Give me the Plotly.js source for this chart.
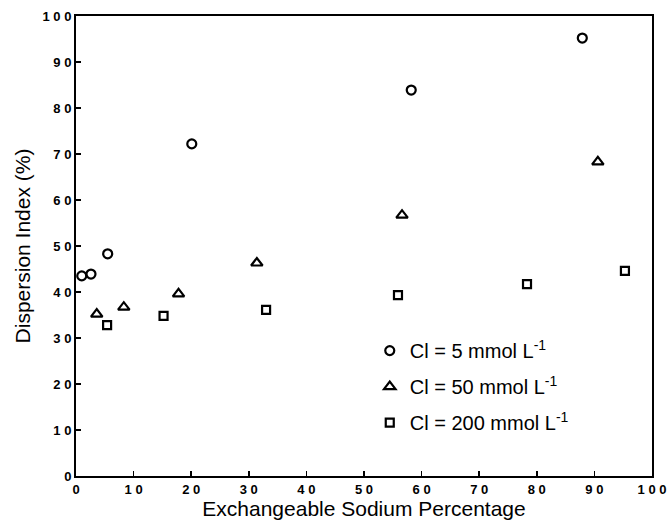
<!DOCTYPE html>
<html>
<head>
<meta charset="utf-8">
<script src="https://cdn.plot.ly/plotly-3.0.1.min.js"></script>
<style>html,body{margin:0;padding:0;background:#fff;}#chart{width:672px;height:529px;}</style>
</head>
<body>
<div id="chart"></div>
<script>
// Data
const seriesNames = ["Cl = 5 mmol L<sup>-1</sup>", "Cl = 50 mmol L<sup>-1</sup>", "Cl = 200 mmol L<sup>-1</sup>"];
const esp5 = [1.0, 2.6, 5.5, 20.1, 58.2, 87.9];
const di5 = [43.5, 43.9, 48.3, 72.2, 83.9, 95.2];
const esp50 = [3.6, 8.3, 17.8, 31.4, 56.6, 90.6];
const di50 = [35.2, 36.7, 39.6, 46.3, 56.7, 68.3];
const esp200 = [5.4, 15.2, 33.0, 55.9, 78.3, 95.3];
const di200 = [32.8, 34.8, 36.1, 39.3, 41.7, 44.6];
const tickVals = [0, 10, 20, 30, 40, 50, 60, 70, 80, 90, 100];
const tickLabels = ["0", "1 0", "2 0", "3 0", "4 0", "5 0", "6 0", "7 0", "8 0", "9 0", "1 0 0"];

const font = "Liberation Sans, Arial, sans-serif";
function trace(x, y, name, symbol, size, grp) {
  return {
    x: x, y: y, name: name, type: "scatter", mode: "markers", legendgroup: grp,
    marker: {symbol: symbol, size: size, color: "#000", line: {color: "#000", width: 2.2}}
  };
}
const data = [
  trace(esp5, di5, seriesNames[0], "circle-open", 9, "a"),
  trace(esp50, di50, seriesNames[1], "triangle-up-open", 10, "b"),
  trace(esp200, di200, seriesNames[2], "square-open", 8, "c")
];
const axisCommon = {
  range: [0, 100], tickmode: "array", tickvals: tickVals, ticktext: tickLabels,
  showgrid: false, zeroline: false, showline: true, linecolor: "#000", linewidth: 2,
  mirror: true, ticks: "inside", ticklen: 5, tickwidth: 1.5, tickcolor: "#000",
  tickfont: {family: font, size: 13, color: "#000", weight: "bold"}
};
const layout = {
  width: 672, height: 529,
  margin: {l: 76, r: 20, t: 16, b: 53},
  paper_bgcolor: "#fff", plot_bgcolor: "#fff",
  font: {family: font, color: "#000"},
  xaxis: Object.assign({}, axisCommon, {title: {text: "Exchangeable Sodium Percentage", font: {family: font, size: 21, color: "#000"}, standoff: 6}}),
  yaxis: Object.assign({}, axisCommon, {title: {text: "Dispersion Index (%)", font: {family: font, size: 21, color: "#000"}, standoff: 6}}),
  showlegend: true,
  legend: {x: 0.51, y: 0.315, xanchor: "left", yanchor: "top", bgcolor: "rgba(0,0,0,0)",
           font: {family: font, size: 20, color: "#000"}, tracegroupgap: 7, itemwidth: 30}
};
Plotly.newPlot("chart", data, layout, {displayModeBar: false, staticPlot: true});
</script>
</body>
</html>
